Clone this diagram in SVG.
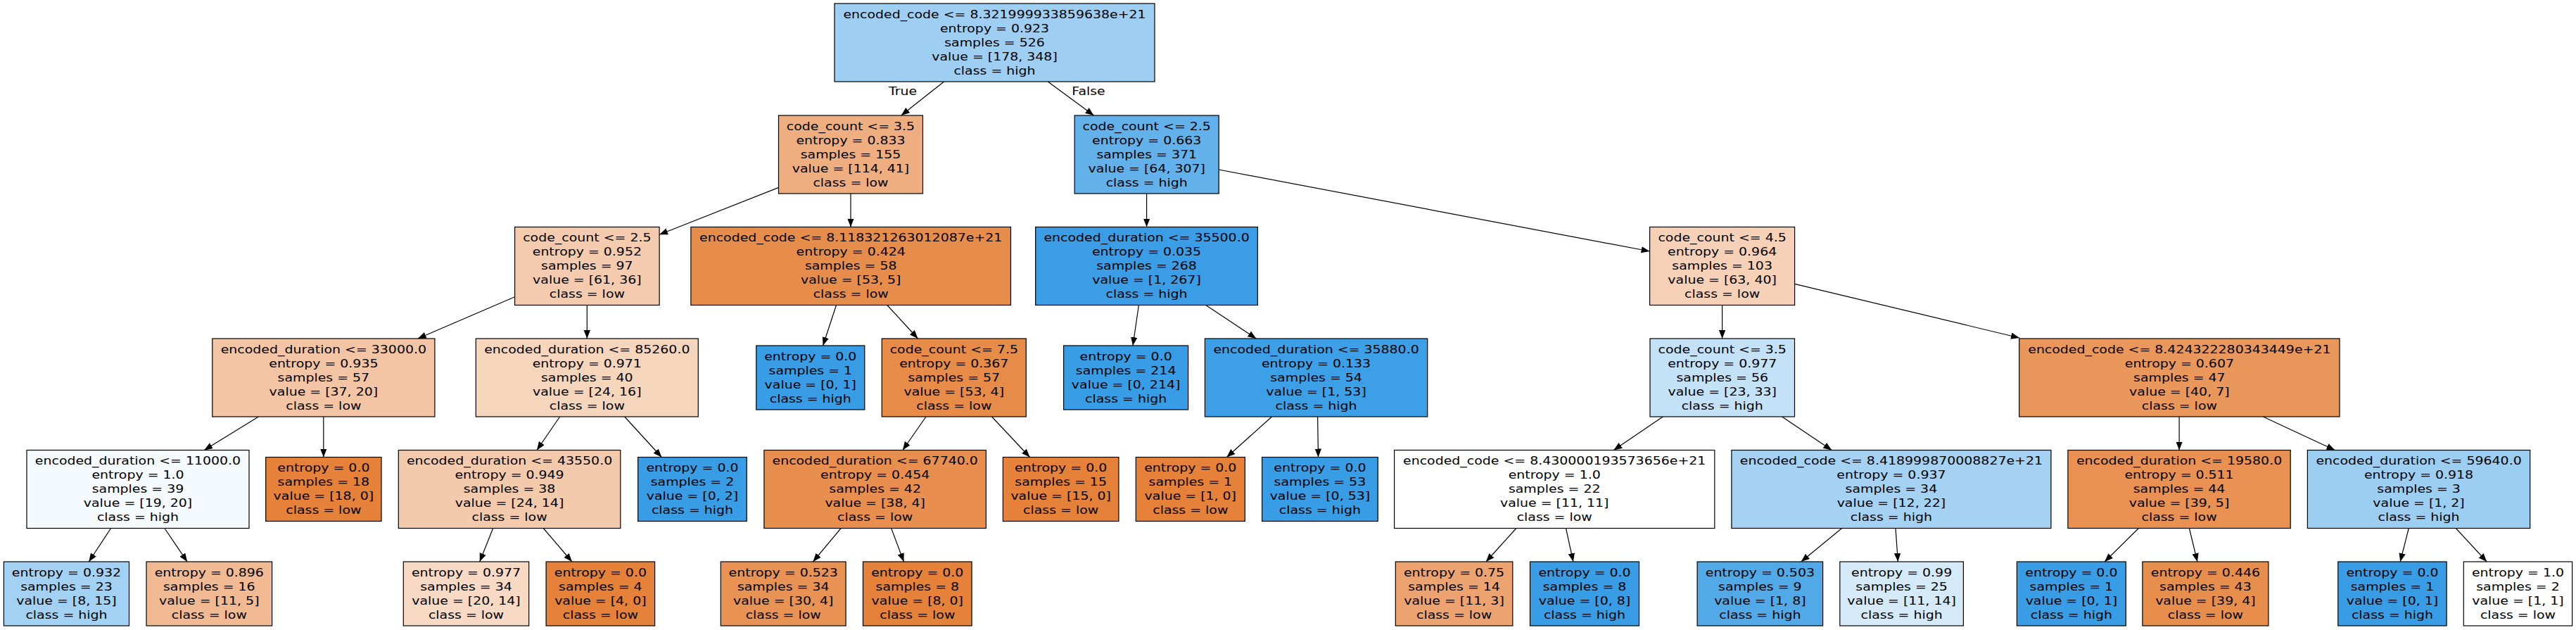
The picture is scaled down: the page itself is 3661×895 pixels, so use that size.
<svg xmlns="http://www.w3.org/2000/svg" width="3661" height="895" viewBox="0 0 3661 895">
<style>
.box{stroke:#000;stroke-width:1.2}
text{font-family:"DejaVu Sans","Liberation Sans",sans-serif;font-size:16.67px;text-anchor:middle;fill:#000}
.edge{stroke:#000;stroke-width:1.2;fill:none;marker-end:url(#ah)}
</style>
<defs>
<marker id="ah" markerUnits="userSpaceOnUse" markerWidth="13" markerHeight="10" refX="12" refY="4.7" orient="auto">
<path d="M0,0 L12,4.7 L0,9.4 z" fill="#000"/>
</marker>
</defs>
<rect width="3661" height="895" fill="#fff"/>
<g id="edges">
<path class="edge" d="M1341.5,116 L1280.8,164"/>
<path class="edge" d="M1489.3,116 L1554.5,164"/>
<path class="edge" d="M1106.7,266.4 L937.1,333.3"/>
<path class="edge" d="M1209,275 L1209,322.5"/>
<path class="edge" d="M1629.6,275 L1629.6,322.5"/>
<path class="edge" d="M1732.2,241 L2344.6,357"/>
<path class="edge" d="M731.6,421.7 L593.8,481"/>
<path class="edge" d="M834.3,433.5 L834.3,481"/>
<path class="edge" d="M1188.5,433.5 L1169.6,491"/>
<path class="edge" d="M1260.9,433.5 L1304.5,481"/>
<path class="edge" d="M1618.4,433.5 L1610,491"/>
<path class="edge" d="M1713.8,433.5 L1785.3,481"/>
<path class="edge" d="M2447.6,433.5 L2447.6,481"/>
<path class="edge" d="M2550.6,403.3 L2870,480"/>
<path class="edge" d="M367.4,592 L290.2,639.5"/>
<path class="edge" d="M459.8,592 L459.8,649.5"/>
<path class="edge" d="M795.6,592 L763,639.5"/>
<path class="edge" d="M887.7,592 L940.3,649.5"/>
<path class="edge" d="M1409.6,592 L1463.6,649.5"/>
<path class="edge" d="M1316,592 L1282.9,639.5"/>
<path class="edge" d="M1807.5,592 L1743.4,649.5"/>
<path class="edge" d="M1872.6,592 L1873.5,649.5"/>
<path class="edge" d="M2363.3,592 L2293.3,639.5"/>
<path class="edge" d="M2532.7,592 L2603.3,639.5"/>
<path class="edge" d="M3097.1,592 L3097.1,639.5"/>
<path class="edge" d="M3216.3,592 L3318.4,639.5"/>
<path class="edge" d="M157.6,750.5 L126.3,798"/>
<path class="edge" d="M233.9,750.5 L266.1,798"/>
<path class="edge" d="M700.7,750.5 L681.7,798"/>
<path class="edge" d="M772.3,750.5 L812.9,798"/>
<path class="edge" d="M1195.1,750.5 L1155.5,798"/>
<path class="edge" d="M1266.7,750.5 L1284.5,798"/>
<path class="edge" d="M2154.9,750.5 L2111.9,798"/>
<path class="edge" d="M2225.5,750.5 L2235.9,798"/>
<path class="edge" d="M2617.6,750.5 L2559.7,798"/>
<path class="edge" d="M2694,750.5 L2697.4,798"/>
<path class="edge" d="M3039.4,750.5 L2991.1,798"/>
<path class="edge" d="M3111.4,750.5 L3122.9,798"/>
<path class="edge" d="M3423.3,750.5 L3411.2,798"/>
<path class="edge" d="M3490.3,750.5 L3534.2,798"/>
<g transform="translate(1283,0) scale(1.135,1)"><text x="0" y="135">True</text></g>
<g transform="translate(1547,0) scale(1.135,1)"><text x="0" y="135">False</text></g>
</g>

<g id="n0"><rect class="box" x="1186" y="5" width="455" height="111" fill="#9ecff2"/><g transform="translate(1413.5,5) scale(1.135,1)"><text y="21">encoded_code &lt;= 8.321999933859638e+21</text><text y="41">entropy = 0.923</text><text y="61">samples = 526</text><text y="81">value = [178, 348]</text><text y="101">class = high</text></g></g>

<g id="n1"><rect class="box" x="1106.5" y="164" width="205" height="111" fill="#eeae80"/><g transform="translate(1209,164) scale(1.135,1)"><text y="21">code_count &lt;= 3.5</text><text y="41">entropy = 0.833</text><text y="61">samples = 155</text><text y="81">value = [114, 41]</text><text y="101">class = low</text></g></g>

<g id="n2"><rect class="box" x="1527.2" y="164" width="205" height="111" fill="#62b1ea"/><g transform="translate(1629.7,164) scale(1.135,1)"><text y="21">code_count &lt;= 2.5</text><text y="41">entropy = 0.663</text><text y="61">samples = 371</text><text y="81">value = [64, 307]</text><text y="101">class = high</text></g></g>

<g id="n3"><rect class="box" x="731.6" y="322.5" width="205.5" height="111" fill="#f4cbae"/><g transform="translate(834.35,322.5) scale(1.135,1)"><text y="21">code_count &lt;= 2.5</text><text y="41">entropy = 0.952</text><text y="61">samples = 97</text><text y="81">value = [61, 36]</text><text y="101">class = low</text></g></g>

<g id="n4"><rect class="box" x="981.9" y="322.5" width="454.6" height="111" fill="#e78d4c"/><g transform="translate(1209.2,322.5) scale(1.135,1)"><text y="21">encoded_code &lt;= 8.118321263012087e+21</text><text y="41">entropy = 0.424</text><text y="61">samples = 58</text><text y="81">value = [53, 5]</text><text y="101">class = low</text></g></g>

<g id="n5"><rect class="box" x="1471.7" y="322.5" width="315.7" height="111" fill="#3a9de5"/><g transform="translate(1629.55,322.5) scale(1.135,1)"><text y="21">encoded_duration &lt;= 35500.0</text><text y="41">entropy = 0.035</text><text y="61">samples = 268</text><text y="81">value = [1, 267]</text><text y="101">class = high</text></g></g>

<g id="n6"><rect class="box" x="2344.6" y="322.5" width="206" height="111" fill="#f6d1b7"/><g transform="translate(2447.6,322.5) scale(1.135,1)"><text y="21">code_count &lt;= 4.5</text><text y="41">entropy = 0.964</text><text y="61">samples = 103</text><text y="81">value = [63, 40]</text><text y="101">class = low</text></g></g>

<g id="n7"><rect class="box" x="301.8" y="481" width="316.1" height="111" fill="#f3c5a4"/><g transform="translate(459.85,481) scale(1.135,1)"><text y="21">encoded_duration &lt;= 33000.0</text><text y="41">entropy = 0.935</text><text y="61">samples = 57</text><text y="81">value = [37, 20]</text><text y="101">class = low</text></g></g>

<g id="n8"><rect class="box" x="676.3" y="481" width="316" height="111" fill="#f6d5bd"/><g transform="translate(834.3,481) scale(1.135,1)"><text y="21">encoded_duration &lt;= 85260.0</text><text y="41">entropy = 0.971</text><text y="61">samples = 40</text><text y="81">value = [24, 16]</text><text y="101">class = low</text></g></g>

<g id="n9"><rect class="box" x="1074.8" y="491" width="154" height="91" fill="#399de5"/><g transform="translate(1151.8,491) scale(1.135,1)"><text y="21">entropy = 0.0</text><text y="41">samples = 1</text><text y="61">value = [0, 1]</text><text y="81">class = high</text></g></g>

<g id="n10"><rect class="box" x="1253.3" y="481" width="205" height="111" fill="#e78b48"/><g transform="translate(1355.8,481) scale(1.135,1)"><text y="21">code_count &lt;= 7.5</text><text y="41">entropy = 0.367</text><text y="61">samples = 57</text><text y="81">value = [53, 4]</text><text y="101">class = low</text></g></g>

<g id="n11"><rect class="box" x="1511.6" y="491" width="177" height="91" fill="#399de5"/><g transform="translate(1600.1,491) scale(1.135,1)"><text y="21">entropy = 0.0</text><text y="41">samples = 214</text><text y="61">value = [0, 214]</text><text y="81">class = high</text></g></g>

<g id="n12"><rect class="box" x="1712.4" y="481" width="316.3" height="111" fill="#3d9fe5"/><g transform="translate(1870.55,481) scale(1.135,1)"><text y="21">encoded_duration &lt;= 35880.0</text><text y="41">entropy = 0.133</text><text y="61">samples = 54</text><text y="81">value = [1, 53]</text><text y="101">class = high</text></g></g>

<g id="n13"><rect class="box" x="2345" y="481" width="205.5" height="111" fill="#c3e1f7"/><g transform="translate(2447.75,481) scale(1.135,1)"><text y="21">code_count &lt;= 3.5</text><text y="41">entropy = 0.977</text><text y="61">samples = 56</text><text y="81">value = [23, 33]</text><text y="101">class = high</text></g></g>

<g id="n14"><rect class="box" x="2869.7" y="481" width="455.3" height="111" fill="#ea975c"/><g transform="translate(3097.35,481) scale(1.135,1)"><text y="21">encoded_code &lt;= 8.424322280343449e+21</text><text y="41">entropy = 0.607</text><text y="61">samples = 47</text><text y="81">value = [40, 7]</text><text y="101">class = low</text></g></g>

<g id="n15"><rect class="box" x="38" y="639.5" width="316" height="111" fill="#f5fafe"/><g transform="translate(196,639.5) scale(1.135,1)"><text y="21">encoded_duration &lt;= 11000.0</text><text y="41">entropy = 1.0</text><text y="61">samples = 39</text><text y="81">value = [19, 20]</text><text y="101">class = high</text></g></g>

<g id="n16"><rect class="box" x="377.7" y="649.5" width="164.3" height="91" fill="#e58139"/><g transform="translate(459.85,649.5) scale(1.135,1)"><text y="21">entropy = 0.0</text><text y="41">samples = 18</text><text y="61">value = [18, 0]</text><text y="81">class = low</text></g></g>

<g id="n17"><rect class="box" x="566.3" y="639.5" width="315.5" height="111" fill="#f4caac"/><g transform="translate(724.05,639.5) scale(1.135,1)"><text y="21">encoded_duration &lt;= 43550.0</text><text y="41">entropy = 0.949</text><text y="61">samples = 38</text><text y="81">value = [24, 14]</text><text y="101">class = low</text></g></g>

<g id="n18"><rect class="box" x="906.7" y="649.5" width="154.5" height="91" fill="#399de5"/><g transform="translate(983.95,649.5) scale(1.135,1)"><text y="21">entropy = 0.0</text><text y="41">samples = 2</text><text y="61">value = [0, 2]</text><text y="81">class = high</text></g></g>

<g id="n19"><rect class="box" x="1085.9" y="639.5" width="315.5" height="111" fill="#e88e4e"/><g transform="translate(1243.65,639.5) scale(1.135,1)"><text y="21">encoded_duration &lt;= 67740.0</text><text y="41">entropy = 0.454</text><text y="61">samples = 42</text><text y="81">value = [38, 4]</text><text y="101">class = low</text></g></g>

<g id="n20"><rect class="box" x="1425.4" y="649.5" width="164.5" height="91" fill="#e58139"/><g transform="translate(1507.65,649.5) scale(1.135,1)"><text y="21">entropy = 0.0</text><text y="41">samples = 15</text><text y="61">value = [15, 0]</text><text y="81">class = low</text></g></g>

<g id="n21"><rect class="box" x="1614.3" y="649.5" width="155" height="91" fill="#e58139"/><g transform="translate(1691.8,649.5) scale(1.135,1)"><text y="21">entropy = 0.0</text><text y="41">samples = 1</text><text y="61">value = [1, 0]</text><text y="81">class = low</text></g></g>

<g id="n22"><rect class="box" x="1793.6" y="649.5" width="164.6" height="91" fill="#399de5"/><g transform="translate(1875.9,649.5) scale(1.135,1)"><text y="21">entropy = 0.0</text><text y="41">samples = 53</text><text y="61">value = [0, 53]</text><text y="81">class = high</text></g></g>

<g id="n23"><rect class="box" x="1981.6" y="639.5" width="455.2" height="111" fill="#ffffff"/><g transform="translate(2209.2,639.5) scale(1.135,1)"><text y="21">encoded_code &lt;= 8.430000193573656e+21</text><text y="41">entropy = 1.0</text><text y="61">samples = 22</text><text y="81">value = [11, 11]</text><text y="101">class = low</text></g></g>

<g id="n24"><rect class="box" x="2460.9" y="639.5" width="454" height="111" fill="#a5d2f3"/><g transform="translate(2687.9,639.5) scale(1.135,1)"><text y="21">encoded_code &lt;= 8.418999870008827e+21</text><text y="41">entropy = 0.937</text><text y="61">samples = 34</text><text y="81">value = [12, 22]</text><text y="101">class = high</text></g></g>

<g id="n25"><rect class="box" x="2938.9" y="639.5" width="316.3" height="111" fill="#e89152"/><g transform="translate(3097.05,639.5) scale(1.135,1)"><text y="21">encoded_duration &lt;= 19580.0</text><text y="41">entropy = 0.511</text><text y="61">samples = 44</text><text y="81">value = [39, 5]</text><text y="101">class = low</text></g></g>

<g id="n26"><rect class="box" x="3279.4" y="639.5" width="316.3" height="111" fill="#9ccef2"/><g transform="translate(3437.55,639.5) scale(1.135,1)"><text y="21">encoded_duration &lt;= 59640.0</text><text y="41">entropy = 0.918</text><text y="61">samples = 3</text><text y="81">value = [1, 2]</text><text y="101">class = high</text></g></g>

<g id="n27"><rect class="box" x="5.4" y="798" width="178.1" height="91" fill="#a3d1f3"/><g transform="translate(94.45,798) scale(1.135,1)"><text y="21">entropy = 0.932</text><text y="41">samples = 23</text><text y="61">value = [8, 15]</text><text y="81">class = high</text></g></g>

<g id="n28"><rect class="box" x="208" y="798" width="178.6" height="91" fill="#f1ba93"/><g transform="translate(297.3,798) scale(1.135,1)"><text y="21">entropy = 0.896</text><text y="41">samples = 16</text><text y="61">value = [11, 5]</text><text y="81">class = low</text></g></g>

<g id="n29"><rect class="box" x="573.3" y="798" width="178.4" height="91" fill="#f7d9c4"/><g transform="translate(662.5,798) scale(1.135,1)"><text y="21">entropy = 0.977</text><text y="41">samples = 34</text><text y="61">value = [20, 14]</text><text y="81">class = low</text></g></g>

<g id="n30"><rect class="box" x="776.1" y="798" width="154.5" height="91" fill="#e58139"/><g transform="translate(853.35,798) scale(1.135,1)"><text y="21">entropy = 0.0</text><text y="41">samples = 4</text><text y="61">value = [4, 0]</text><text y="81">class = low</text></g></g>

<g id="n31"><rect class="box" x="1024.3" y="798" width="177.8" height="91" fill="#e89253"/><g transform="translate(1113.2,798) scale(1.135,1)"><text y="21">entropy = 0.523</text><text y="41">samples = 34</text><text y="61">value = [30, 4]</text><text y="81">class = low</text></g></g>

<g id="n32"><rect class="box" x="1226.5" y="798" width="154.6" height="91" fill="#e58139"/><g transform="translate(1303.8,798) scale(1.135,1)"><text y="21">entropy = 0.0</text><text y="41">samples = 8</text><text y="61">value = [8, 0]</text><text y="81">class = low</text></g></g>

<g id="n33"><rect class="box" x="1983.3" y="798" width="166.5" height="91" fill="#eca36f"/><g transform="translate(2066.55,798) scale(1.135,1)"><text y="21">entropy = 0.75</text><text y="41">samples = 14</text><text y="61">value = [11, 3]</text><text y="81">class = low</text></g></g>

<g id="n34"><rect class="box" x="2174.5" y="798" width="155" height="91" fill="#399de5"/><g transform="translate(2252,798) scale(1.135,1)"><text y="21">entropy = 0.0</text><text y="41">samples = 8</text><text y="61">value = [0, 8]</text><text y="81">class = high</text></g></g>

<g id="n35"><rect class="box" x="2412.1" y="798" width="178.5" height="91" fill="#52a9e8"/><g transform="translate(2501.35,798) scale(1.135,1)"><text y="21">entropy = 0.503</text><text y="41">samples = 9</text><text y="61">value = [1, 8]</text><text y="81">class = high</text></g></g>

<g id="n36"><rect class="box" x="2614.8" y="798" width="175.6" height="91" fill="#d5eaf9"/><g transform="translate(2702.6,798) scale(1.135,1)"><text y="21">entropy = 0.99</text><text y="41">samples = 25</text><text y="61">value = [11, 14]</text><text y="81">class = high</text></g></g>

<g id="n37"><rect class="box" x="2866.4" y="798" width="154.9" height="91" fill="#399de5"/><g transform="translate(2943.85,798) scale(1.135,1)"><text y="21">entropy = 0.0</text><text y="41">samples = 1</text><text y="61">value = [0, 1]</text><text y="81">class = high</text></g></g>

<g id="n38"><rect class="box" x="3044.9" y="798" width="179" height="91" fill="#e88e4d"/><g transform="translate(3134.4,798) scale(1.135,1)"><text y="21">entropy = 0.446</text><text y="41">samples = 43</text><text y="61">value = [39, 4]</text><text y="81">class = low</text></g></g>

<g id="n39"><rect class="box" x="3322.8" y="798" width="154.3" height="91" fill="#399de5"/><g transform="translate(3399.95,798) scale(1.135,1)"><text y="21">entropy = 0.0</text><text y="41">samples = 1</text><text y="61">value = [0, 1]</text><text y="81">class = high</text></g></g>

<g id="n40"><rect class="box" x="3501.3" y="798" width="154.3" height="91" fill="#ffffff"/><g transform="translate(3578.45,798) scale(1.135,1)"><text y="21">entropy = 1.0</text><text y="41">samples = 2</text><text y="61">value = [1, 1]</text><text y="81">class = low</text></g></g>
</svg>
